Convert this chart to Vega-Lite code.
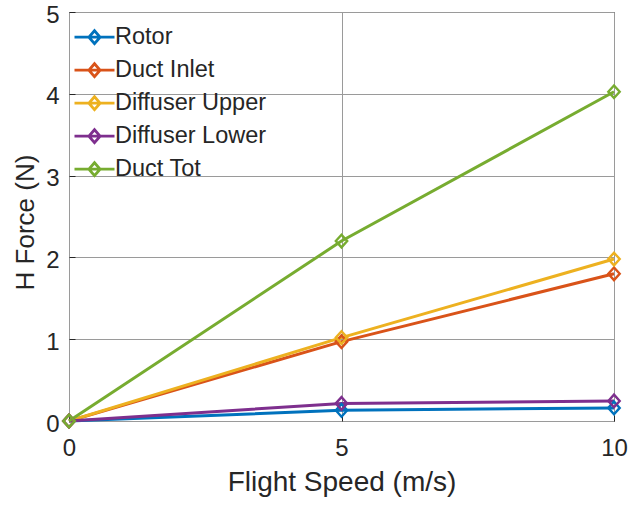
{
  "$schema": "https://vega.github.io/schema/vega-lite/v6.json",
  "width": 545,
  "height": 409,
  "autosize": {"type": "none"},
  "padding": {"left": 69, "top": 12, "right": 15, "bottom": 84},
  "background": "white",
  "config": {
    "font": "Liberation Sans",
    "view": {"stroke": "#262626", "strokeWidth": 1},
    "axis": {
      "domain": false,
      "grid": true,
      "gridColor": "#9a9a9a",
      "gridWidth": 1,
      "labelFont": "Liberation Sans",
      "titleFont": "Liberation Sans",
      "labelColor": "#262626",
      "titleColor": "#262626",
      "labelFontSize": 24,
      "titleFontSize": 26,
      "titleFontWeight": "normal",
      "tickColor": "#262626",
      "tickSize": -6,
      "tickWidth": 1
    }
  },
  "data": {
    "values": [
      {"series": "Rotor", "speed": 0, "force": 0},
      {"series": "Rotor", "speed": 5, "force": 0.13},
      {"series": "Rotor", "speed": 10, "force": 0.16},
      {"series": "Duct Inlet", "speed": 0, "force": 0},
      {"series": "Duct Inlet", "speed": 5, "force": 0.97},
      {"series": "Duct Inlet", "speed": 10, "force": 1.8},
      {"series": "Diffuser Upper", "speed": 0, "force": 0},
      {"series": "Diffuser Upper", "speed": 5, "force": 1.02},
      {"series": "Diffuser Upper", "speed": 10, "force": 1.98},
      {"series": "Diffuser Lower", "speed": 0, "force": 0},
      {"series": "Diffuser Lower", "speed": 5, "force": 0.215},
      {"series": "Diffuser Lower", "speed": 10, "force": 0.245},
      {"series": "Duct Tot", "speed": 0, "force": 0},
      {"series": "Duct Tot", "speed": 5, "force": 2.2},
      {"series": "Duct Tot", "speed": 10, "force": 4.025}
    ]
  },
  "encoding": {
    "x": {
      "field": "speed",
      "type": "quantitative",
      "scale": {"domain": [0, 10], "nice": false, "zero": false},
      "axis": {
        "values": [0, 5, 10],
        "title": "Flight Speed (m/s)",
        "titleFontSize": 28,
        "labelBaseline": "middle",
        "labelPadding": 33,
        "labelFlush": false,
        "titleBaseline": "middle",
        "titleY": 61,
        "titleX": 272.5
      }
    },
    "y": {
      "field": "force",
      "type": "quantitative",
      "scale": {"domain": [0, 5], "nice": false},
      "axis": {
        "values": [0, 1, 2, 3, 4, 5],
        "title": "H Force (N)",
        "labelBaseline": "middle",
        "labelAlign": "right",
        "labelPadding": 16,
        "labelOffset": 3,
        "titleAngle": -90,
        "titleBaseline": "middle",
        "titleX": -44,
        "titleY": 210
      }
    },
    "color": {
      "field": "series",
      "type": "nominal",
      "sort": ["Rotor", "Duct Inlet", "Diffuser Upper", "Diffuser Lower", "Duct Tot"],
      "scale": {
        "domain": ["Rotor", "Duct Inlet", "Diffuser Upper", "Diffuser Lower", "Duct Tot"],
        "range": ["#0072BD", "#D95319", "#EDB120", "#7E2F8E", "#77AC30"]
      },
      "legend": {
        "title": null,
        "orient": "none",
        "legendX": 4,
        "legendY": 9,
        "padding": 0,
        "symbolType": "M-1,0L1,0M-0.28,0L0,-0.32L0.28,0L0,0.32Z",
        "symbolSize": 1600,
        "symbolStrokeWidth": 2.8,
        "symbolFillColor": "transparent",
        "labelFontSize": 23.5,
        "labelColor": "#262626",
        "labelFont": "Liberation Sans",
        "labelOffset": -1,
        "rowPadding": 0,
        "clipHeight": 32.3,
        "labelLimit": 400
      }
    }
  },
  "layer": [
    {
      "mark": {"type": "line", "strokeWidth": 3}
    },
    {
      "mark": {
        "type": "point",
        "shape": "M-0.9,0L0,-1L0.9,0L0,1Z",
        "size": 160,
        "filled": false,
        "strokeWidth": 2.4,
        "opacity": 1
      }
    }
  ]
}
